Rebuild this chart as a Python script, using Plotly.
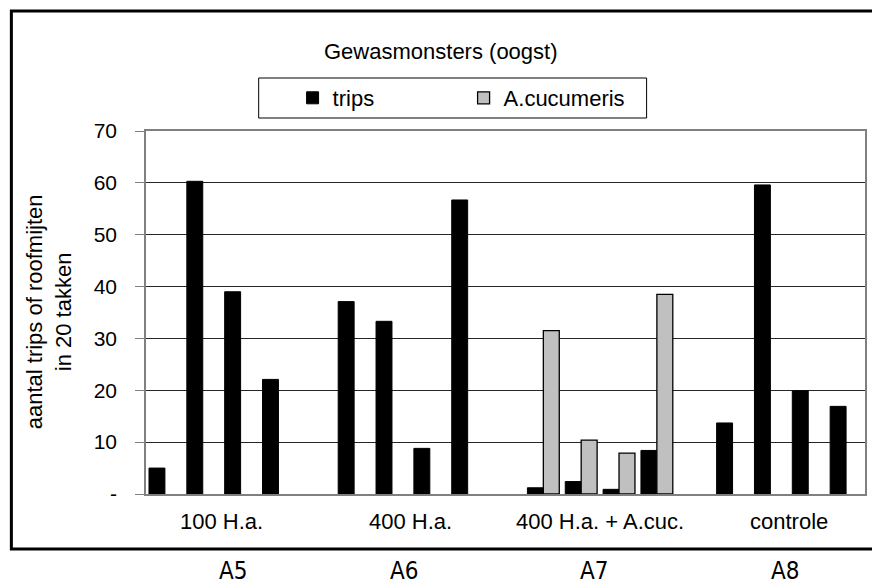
import plotly.graph_objects as go

# Sample groups (treatments), their plot codes and the per-sample counts
groups = ["100 H.a.", "400 H.a.", "400 H.a. + A.cuc.", "controle"]
codes = ["A5", "A6", "A7", "A8"]
samples_per_group = 4

trips = [5.0, 60.3, 39.0, 22.1,
         37.1, 33.3, 8.8, 56.7,
         1.2, 2.4, 0.9, 8.4,
         13.7, 59.6, 19.9, 16.9]
acucumeris = [None, None, None, None,
              None, None, None, None,
              31.5, 10.4, 7.9, 38.5,
              None, None, None, None]

y_ticks = [0, 10, 20, 30, 40, 50, 60, 70]
y_tick_labels = ["-", "10", "20", "30", "40", "50", "60", "70"]

# One empty slot between treatment groups
slot = samples_per_group + 1
x_pos = [g * slot + k for g in range(len(groups)) for k in range(samples_per_group)]
group_centers = [g * slot + (samples_per_group - 1) / 2 for g in range(len(groups))]
n_slots = len(groups) * slot - 1

FONT = "Liberation Sans, Arial, sans-serif"
NARROW = "Liberation Sans Narrow, DejaVu Sans Condensed, Arial Narrow, sans-serif"

W, H = 872, 587
ML, MR, MT, MB = 146, 5, 131, 93
PW, PH = W - ML - MR, H - MT - MB

# Horizontal pixel positions of the plot codes printed below the frame
code_x_px = [234, 405, 596, 787]


def px_x(px):
    return (px - ML) / PW


def px_y(py):
    return (H - MB - py) / PH


fig = go.Figure()
fig.add_trace(go.Bar(
    x=x_pos, y=trips, name="trips",
    marker=dict(color="#000000", line=dict(color="#000000", width=1)),
))
fig.add_trace(go.Bar(
    x=x_pos, y=acucumeris, name="A.cucumeris",
    marker=dict(color="#C0C0C0", line=dict(color="#000000", width=1.3)),
))

annotations = []
# Chart title
annotations.append(dict(
    text="Gewasmonsters (oogst)", xref="paper", yref="paper",
    x=px_x(442), y=px_y(51), xanchor="center", yanchor="middle",
    showarrow=False, font=dict(family=FONT, size=22, color="#000"),
))
# Y axis title (two lines, rotated)
annotations.append(dict(
    text="aantal trips of roofmijten<br>in 20 takken", xref="paper", yref="paper",
    x=px_x(49), y=px_y(312), xanchor="center", yanchor="middle", textangle=-90,
    showarrow=False, font=dict(family=FONT, size=22, color="#000"),
))
# Treatment labels under each group
for gc, name in zip(group_centers, groups):
    annotations.append(dict(
        text=name, xref="x", yref="paper", x=gc, y=px_y(521),
        xanchor="center", yanchor="middle", showarrow=False,
        font=dict(family=FONT, size=22, color="#000"),
    ))
# Plot codes below the frame
for cx, code in zip(code_x_px, codes):
    annotations.append(dict(
        text=code, xref="paper", yref="paper", x=px_x(cx), y=px_y(586),
        xanchor="center", yanchor="bottom", showarrow=False, borderpad=0,
        font=dict(family=NARROW, size=24, color="#000"),
    ))

shapes = [
    # Outer frame around the whole chart
    dict(type="rect", xref="paper", yref="paper",
         x0=px_x(11), x1=px_x(885), y0=px_y(549), y1=px_y(11),
         line=dict(color="#000", width=3), fillcolor="rgba(0,0,0,0)", layer="above"),
    # Legend frame
    dict(type="rect", xref="paper", yref="paper",
         x0=px_x(259), x1=px_x(648), y0=px_y(118), y1=px_y(78),
         line=dict(color="#000", width=1), fillcolor="rgba(0,0,0,0)"),
]

fig.update_layout(
    width=W, height=H,
    margin=dict(l=ML, r=MR, t=MT, b=MB),
    paper_bgcolor="white", plot_bgcolor="white",
    barmode="group", bargap=0.158, bargroupgap=0,
    showlegend=True,
    legend=dict(
        orientation="h", x=px_x(293), y=px_y(98), xanchor="left", yanchor="middle",
        font=dict(family=FONT, size=22, color="#000"),
        bgcolor="rgba(0,0,0,0)", borderwidth=0,
        entrywidth=126, entrywidthmode="pixels",
    ),
    annotations=annotations,
    shapes=shapes,
    xaxis=dict(
        range=[-0.5, n_slots - 0.5], showticklabels=False, ticks="",
        showgrid=False, zeroline=False,
        showline=True, linecolor="#808080", linewidth=2, mirror=True,
    ),
    yaxis=dict(
        range=[0, 70], tickvals=y_ticks, ticktext=y_tick_labels,
        ticks="outside", ticklen=9, tickcolor="#808080", tickwidth=1,
        ticklabelstandoff=14,
        tickfont=dict(family=FONT, size=21, color="#000"),
        showgrid=True, gridcolor="#262626", gridwidth=1,
        zeroline=False,
        showline=True, linecolor="#808080", linewidth=1.5, mirror=True,
    ),
)

fig.write_html("out.html")
